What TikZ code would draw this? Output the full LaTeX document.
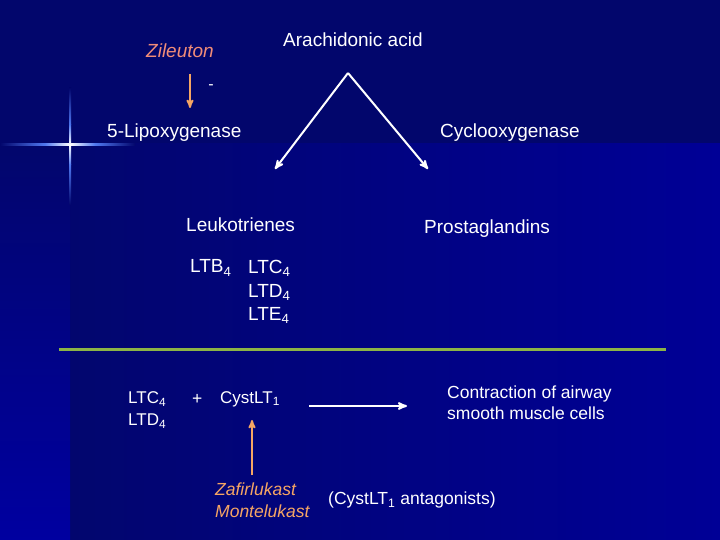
\documentclass[tikz,border=0pt]{standalone}
\usepackage{fontspec}
\setmainfont{Liberation Sans}
\usepackage{tikz}
\usetikzlibrary{arrows}
\definecolor{slidetop}{RGB}{2,6,108}
\definecolor{slidemid}{RGB}{2,6,110}
\definecolor{slidelow}{RGB}{0,0,150}
\definecolor{slidestrip}{RGB}{0,0,160}
\definecolor{flareblue}{RGB}{80,120,240}
\definecolor{drugsalmon}{RGB}{240,140,120}
\definecolor{drugorange}{RGB}{245,165,100}
\definecolor{rulegreen}{RGB}{140,180,70}
\tikzset{
    term/.style={text=white,font=\fontsize{19}{21}\selectfont,inner sep=0pt,anchor=west},
    smallterm/.style={text=white,font=\fontsize{17.5}{21}\selectfont,inner sep=0pt,anchor=west,align=left},
    drug/.style={text=drugorange,font=\fontsize{17.5}{22.5}\selectfont\itshape,inner sep=0pt,anchor=west,align=left},
    whitearrow/.style={->,draw=white,line width=2pt},
    drugarrow/.style={->,draw=drugorange,line width=1.8pt}
}
\begin{document}
\begin{tikzpicture}[x=1pt,y=-1pt,>=stealth']
				% background
				\useasboundingbox (0,0) rectangle (720,540);
				\fill[slidetop] (0,0) rectangle (720,144);
				\shade[left color=slidemid,right color=slidelow] (70,144) rectangle (720,540);
				\shade[top color=slidetop,bottom color=slidestrip] (0,144) rectangle (70,540);
				\shade[left color=slidetop,right color=flareblue] (0,143.5) rectangle (45,146);
				\shade[left color=flareblue,right color=white] (45,143.5) rectangle (70,146);
				\shade[left color=white,right color=flareblue] (70,143.5) rectangle (95,146);
				\shade[left color=flareblue,right color=slidetop] (95,143.5) rectangle (135,146);
				\shade[top color=slidetop,bottom color=flareblue] (69,88) rectangle (71,125);
				\shade[top color=flareblue,bottom color=white] (69,125) rectangle (71,145);
				\shade[top color=white,bottom color=flareblue] (69,145) rectangle (71,165);
				\shade[top color=flareblue,bottom color=slidetop] (69,165) rectangle (71,205);
				
				% upper part
				\node[term] (AA) at (283,40) {Arachidonic acid};
				\node[drug,text=drugsalmon,font=\fontsize{19}{21}\selectfont\itshape] (ZI) at (146,51) {Zileuton};
				\node[term] (LO) at (107,133) {5-Lipoxygenase};
				\node[term] (CO) at (440,133) {Cyclooxygenase};
				\node[term] (LT) at (186,225) {Leukotrienes};
				\node[term] (PG) at (424,229) {Prostaglandins};
				\node[term] (LTB) at (190,268) {LTB\textsubscript{4}};
				\node[term,align=left,font=\fontsize{19}{23.5}\selectfont] (LTC) at (248,292) {LTC\textsubscript{4}\\LTD\textsubscript{4}\\LTE\textsubscript{4}};
				\node[text=white,font=\fontsize{16}{18}\selectfont] (MI) at (211,87) {-};
				\coordinate (top) at (348,73);
				\coordinate (ZIa) at (190,74);
				\coordinate (ZIb) at (190,108);
				
				\path
				(top) edge[whitearrow] (275,169)
				edge[whitearrow] (428,169)
				(ZIa) edge[drugarrow] (ZIb);
				
				% divider
				\draw[rulegreen,line width=3pt] (59,349.5) -- (666,349.5);
				
				% lower part
				\node[term,align=left,font=\fontsize{17}{22}\selectfont] (LCD) at (128,410) {LTC\textsubscript{4}\\LTD\textsubscript{4}};
				\node[smallterm] (PL) at (192,399) {+};
				\node[smallterm,font=\fontsize{17}{20}\selectfont] (CY) at (220,399) {CystLT\textsubscript{1}};
				\node[smallterm] (CT) at (447,403) {Contraction of airway\\smooth muscle cells};
				\node[drug] (ZM) at (215,500) {Zafirlukast\\Montelukast};
				\node[smallterm] (AN) at (328,500) {(CystLT\textsubscript{1} antagonists)};
				\coordinate (CYa) at (309,406);
				\coordinate (CYb) at (407,406);
				\coordinate (ZMa) at (252,475);
				\coordinate (ZMb) at (252,420);
				
				\path
				(CYa) edge[whitearrow] (CYb)
				(ZMa) edge[drugarrow] (ZMb);
			\end{tikzpicture}
\end{document}
